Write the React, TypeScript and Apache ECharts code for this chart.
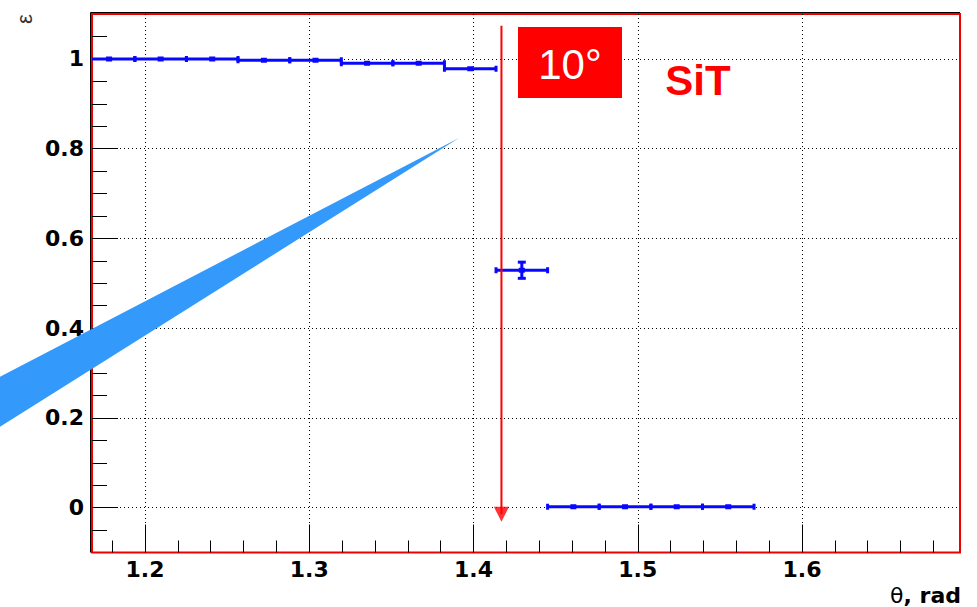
import React, { useEffect, useRef } from "react";
import * as echarts from "echarts";

// ---- data ----
const binEdges = [1.1624, 1.1938, 1.2252, 1.2566, 1.2881, 1.3195, 1.3509, 1.3823, 1.4137, 1.4451, 1.4765, 1.508, 1.5394, 1.5708];
const efficiency = [1.0, 1.0, 1.0, 0.997, 0.997, 0.99, 0.99, 0.978, 0.529, 0.002, 0.002, 0.002, 0.002];
const efficiencyErr = [0.002, 0.002, 0.002, 0.002, 0.002, 0.003, 0.003, 0.004, 0.018, 0.001, 0.001, 0.001, 0.001];
const xMajorTicks = [1.2, 1.3, 1.4, 1.5, 1.6];
const xMinorTicks = [1.18, 1.22, 1.24, 1.26, 1.28, 1.32, 1.34, 1.36, 1.38, 1.42, 1.44, 1.46, 1.48, 1.52, 1.54, 1.56, 1.58, 1.62, 1.64, 1.66, 1.68];
const yMajorTicks = [0, 0.2, 0.4, 0.6, 0.8, 1.0];
const yMinorTicks = [-0.05, 0.05, 0.1, 0.15, 0.25, 0.3, 0.35, 0.45, 0.5, 0.55, 0.65, 0.7, 0.75, 0.85, 0.9, 0.95, 1.05];
const xRange = [1.1677, 1.6962];
const yRange = [-0.1, 1.1];
const arrowX = [1.417, 1.417];
const arrowY = [1.074, -0.015];

const GRID = { left: 92, top: 14, right: 17, bottom: 54.5 };
const W = 977;
const H = 607;
const BLUE = "#0808ff";
const tickFmt = (v: number) => String(Math.round(v * 10) / 10);

export default function App() {
  const ref = useRef<HTMLDivElement>(null);
  useEffect(() => {
    if (!ref.current) return;
    const chart = echarts.init(ref.current, null, { renderer: "svg" });
    const data = efficiency.map((e, i) => [binEdges[i], binEdges[i + 1], e, efficiencyErr[i]]);

    const renderItem = (params: any, api: any) => {
      const lo = api.value(0);
      const hi = api.value(1);
      const y = api.value(2);
      const err = api.value(3);
      const mid = (lo + hi) / 2;
      const pLo = api.coord([lo, y]);
      const pHi = api.coord([hi, y]);
      const pC = api.coord([mid, y]);
      const pT = api.coord([mid, y + err]);
      const pB = api.coord([mid, y - err]);
      const st = { fill: BLUE };
      const children: any[] = [
        { type: "line", shape: { x1: pLo[0], y1: pLo[1], x2: pHi[0], y2: pHi[1] }, style: { stroke: BLUE, lineWidth: 3 } },
        { type: "rect", shape: { x: pLo[0] - 1.5, y: pLo[1] - 3, width: 3, height: 6 }, style: st },
        { type: "rect", shape: { x: pHi[0] - 1.5, y: pHi[1] - 3, width: 3, height: 6 }, style: st },
        { type: "rect", shape: { x: pC[0] - 3, y: pC[1] - 2.5, width: 6, height: 5 }, style: st },
      ];
      if (pB[1] - pT[1] > 6) {
        children.push(
          { type: "line", shape: { x1: pT[0], y1: pT[1], x2: pB[0], y2: pB[1] }, style: { stroke: BLUE, lineWidth: 3 } },
          { type: "rect", shape: { x: pT[0] - 4, y: pT[1] - 1.5, width: 8, height: 3 }, style: st },
          { type: "rect", shape: { x: pB[0] - 4, y: pB[1] - 1.5, width: 8, height: 3 }, style: st }
        );
      }
      return { type: "group", children };
    };

    const right = W - GRID.right;
    const bottom = H - GRID.bottom;
    const labelFont = { fontFamily: "DejaVu Sans", fontWeight: "bold", fontSize: 22, color: "#000" };

    chart.setOption({
      animation: false,
      grid: {
        left: GRID.left, top: GRID.top, right: GRID.right, bottom: GRID.bottom,
        show: true, borderColor: "#ee0000", borderWidth: 2, backgroundColor: "#fff",
      },
      xAxis: [
        {
          type: "value", position: "bottom", min: xRange[0], max: xRange[1],
          axisLine: { show: false, onZero: false },
          axisTick: { show: true, inside: true, length: 28, customValues: xMajorTicks, lineStyle: { color: "#000", width: 1 } },
          axisLabel: { customValues: xMajorTicks, formatter: tickFmt, margin: 6, ...labelFont },
          splitLine: { show: true, lineStyle: { color: "#000", type: [1, 3], width: 1 } },
        },
        {
          type: "value", position: "bottom", min: xRange[0], max: xRange[1],
          axisLine: { show: false, onZero: false },
          axisTick: { show: true, inside: true, length: 12, customValues: xMinorTicks, lineStyle: { color: "#000", width: 1 } },
          axisLabel: { show: false },
          splitLine: { show: false },
        },
      ],
      yAxis: [
        {
          type: "value", position: "left", min: yRange[0], max: yRange[1],
          axisLine: { show: false, onZero: false },
          axisTick: { show: true, inside: true, length: 26, customValues: yMajorTicks, lineStyle: { color: "#000", width: 1 } },
          axisLabel: { customValues: yMajorTicks, formatter: tickFmt, margin: 8, ...labelFont },
          splitLine: { show: true, lineStyle: { color: "#000", type: [1, 3], width: 1 } },
        },
        {
          type: "value", position: "left", min: yRange[0], max: yRange[1],
          axisLine: { show: false, onZero: false },
          axisTick: { show: true, inside: true, length: 15, customValues: yMinorTicks, lineStyle: { color: "#000", width: 1 } },
          axisLabel: { show: false },
          splitLine: { show: false },
        },
      ],
      series: [
        {
          type: "custom",
          xAxisIndex: 0, yAxisIndex: 0,
          clip: true,
          renderItem,
          encode: { x: [0, 1], y: 2 },
          data,
          z: 5,
        },
        {
          type: "line",
          xAxisIndex: 0, yAxisIndex: 0,
          data: arrowX.map((x, i) => [x, arrowY[i]]),
          symbol: "none",
          lineStyle: { color: "#ff0000", width: 2 },
          z: 6,
        },
        {
          type: "scatter",
          xAxisIndex: 0, yAxisIndex: 0,
          data: [[arrowX[1], arrowY[1]]],
          symbol: "triangle",
          symbolRotate: 180,
          symbolSize: [15, 15],
          itemStyle: { color: "#ff0000" },
          z: 7,
        },
      ],
      graphic: [
        {
          type: "polyline", z: 10,
          shape: { points: [[GRID.left - 1.5, bottom], [GRID.left - 1.5, GRID.top - 1.5], [right, GRID.top - 1.5]] },
          style: { stroke: "#000", lineWidth: 1, fill: null },
        },
        { type: "rect", z: 20, shape: { x: 518, y: 27, width: 104, height: 71 }, style: { fill: "#ff0000" } },
        {
          type: "text", z: 21, x: 570, y: 64,
          style: { text: "10°", fill: "#fff", font: "normal 42px 'Liberation Sans', Arial, sans-serif", align: "center", verticalAlign: "middle" },
        },
        {
          type: "text", z: 21, x: 698, y: 80,
          style: { text: "SiT", fill: "#ff0000", font: "bold 42px 'Liberation Sans', Arial, sans-serif", align: "center", verticalAlign: "middle" },
        },
        {
          type: "text", z: 21, x: 24, y: 19, rotation: Math.PI / 2,
          style: { text: "ε", fill: "#333", font: "normal 22px 'Liberation Sans', Arial, sans-serif", align: "center", verticalAlign: "middle" },
        },
        {
          type: "text", z: 21, x: 961, y: 595,
          style: {
            text: "{t|θ}{b|, rad}",
            align: "right", verticalAlign: "middle",
            rich: {
              t: { fontFamily: "DejaVu Sans", fontSize: 22, fill: "#000" },
              b: { fontFamily: "DejaVu Sans", fontWeight: "bold", fontSize: 22, fill: "#000" },
            },
          },
        },
        {
          type: "polygon", z: 30,
          shape: { points: [[0, 376.7], [459, 138], [0, 426.7]] },
          style: { fill: "#3399fa" },
        },
      ],
    });
    return () => chart.dispose();
  }, []);
  return <div ref={ref} style={{ position: "fixed", left: 0, top: 0, width: W, height: H, background: "#fff" }} />;
}
